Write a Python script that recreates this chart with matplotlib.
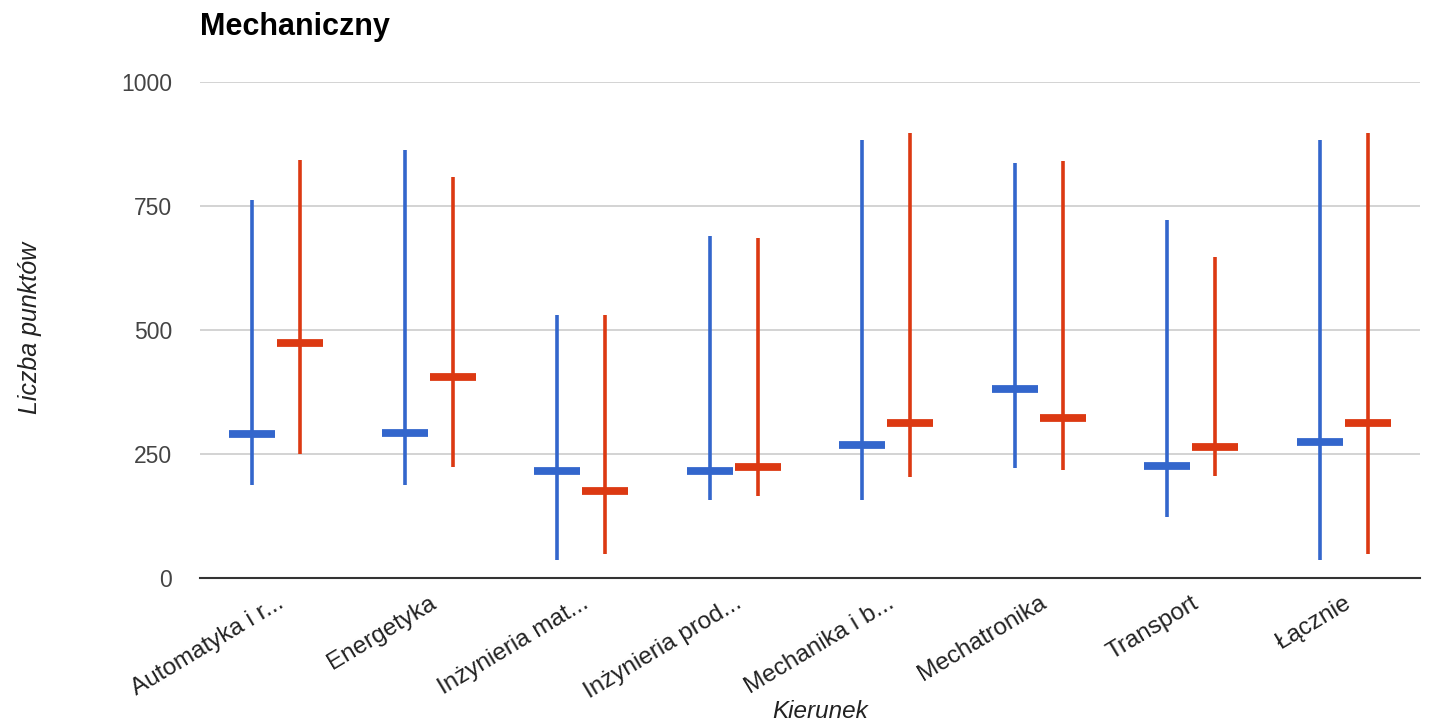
import matplotlib
matplotlib.use('Agg')
import matplotlib.pyplot as plt
import numpy as np

plt.rcParams['font.family'] = ['Liberation Sans', 'DejaVu Sans']

# kierunki (categories)
kierunki = ['Automatyka i r...', 'Energetyka', 'Inżynieria mat...', 'Inżynieria prod...',
            'Mechanika i b...', 'Mechatronika', 'Transport', 'Łącznie']

# series 1 (blue): min, max, middle
blue_min = [187, 187, 37, 158, 158, 222, 122, 37]
blue_max = [763, 863, 531, 689, 883, 837, 721, 883]
blue_mid = [290, 293, 215, 215, 269, 382, 225, 275]

# series 2 (red): min, max, middle
red_min = [251, 224, 48, 165, 203, 218, 206, 48]
red_max = [843, 808, 531, 686, 898, 841, 648, 898]
red_mid = [473, 406, 175, 223, 313, 322, 264, 313]

yticks = [0, 250, 500, 750, 1000]

BLUE = '#3366cc'
RED = '#dc3912'

fig = plt.figure(figsize=(14.33, 7.28), dpi=100)
ax = fig.add_axes([200 / 1433, 150 / 728, 1220 / 1433, 496 / 728])

x = np.arange(len(kierunki))
off = 0.157
half = 0.15

# range lines
ax.vlines(x - off, blue_min, blue_max, color=BLUE, lw=2.6, zorder=3)
ax.vlines(x + off, red_min, red_max, color=RED, lw=2.6, zorder=3)
# middle bars
ax.hlines(blue_mid, x - off - half, x - off + half, color=BLUE, lw=5.6, zorder=4)
ax.hlines(red_mid, x + off - half, x + off + half, color=RED, lw=5.6, zorder=4)

ax.set_xlim(-0.5, len(kierunki) - 0.5)
ax.set_ylim(0, 1000)

ax.set_yticks(yticks)
ax.set_yticklabels([str(v) for v in yticks], fontsize=16.5, color='#444444')
ax.yaxis.grid(True, color='#cccccc', lw=1.2)
ax.set_axisbelow(True)

ax.set_xticks(x)
ax.set_xticklabels(kierunki, fontsize=17.5, color='#222222', rotation=31,
                   ha='right', rotation_mode='anchor')
ax.tick_params(axis='x', length=0, pad=10)
ax.tick_params(axis='y', length=0, pad=20)

for s in ['top', 'right', 'left']:
    ax.spines[s].set_visible(False)
ax.spines['bottom'].set_color('#333333')
ax.spines['bottom'].set_linewidth(1.5)

fig.text(200 / 1433, 1 - 27 / 728, 'Mechaniczny', fontsize=22, fontweight='bold',
         ha='left', va='center', color='black')
fig.text(30 / 1433, 1 - 328 / 728, 'Liczba punktów', fontsize=18, style='italic',
         rotation=90, ha='center', va='center', color='#222222')
fig.text(820 / 1433, 1 - 712 / 728, 'Kierunek', fontsize=17.5, style='italic',
         ha='center', va='center', color='#222222')

fig.savefig('out.png', dpi=100)
